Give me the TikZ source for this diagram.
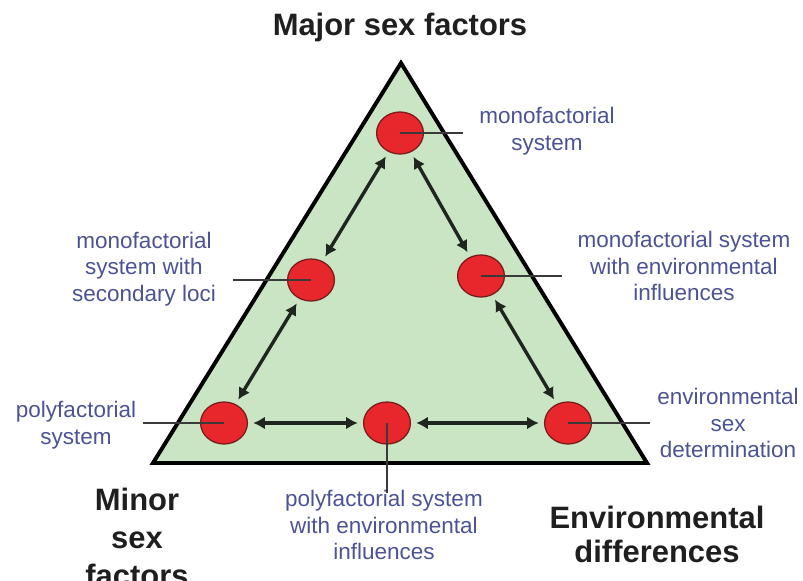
\documentclass[tikz,border=0pt]{standalone}
\usepackage{fontspec}
\setmainfont{Liberation Sans}
\usetikzlibrary{arrows.meta,positioning,shapes.geometric}
\definecolor{TriGreen}{HTML}{C9E5C3}
\definecolor{SpotRed}{HTML}{E8272C}
\definecolor{SpotRim}{HTML}{7A1A1A}
\definecolor{LabelBlue}{HTML}{4B5394}
\definecolor{ArrowDark}{HTML}{1F261F}
\definecolor{LeaderGrey}{HTML}{3A3A3A}

\begin{document}
\begin{tikzpicture}[
    x=0.025cm,y=-0.025cm,
    sexcircle/.style={
      ellipse,
      fill=SpotRed,
      draw=SpotRim,
      line width=0.9pt,
      minimum width=1.17cm,
      minimum height=1.05cm,
      inner sep=0pt
    },
    twoway/.style={
      {Latex[length=2.9mm,width=3.2mm]}-{Latex[length=2.9mm,width=3.2mm]},
      ArrowDark,
      line width=2.4pt,
      shorten <=0.13cm,
      shorten >=0.13cm
    },
    leader/.style={LeaderGrey,line width=0.8pt},
    sexlabel/.style={
      align=center,
      inner sep=0pt,
      text=LabelBlue,
      font=\fontsize{16}{19}\selectfont
    },
    corner/.style={
      align=center,
      inner sep=0pt,
      text=black!88,
      font=\bfseries\fontsize{22}{27}\selectfont
    }
  ]

    \useasboundingbox (0,0) rectangle (803,580);

    % the triangle
    \draw[fill=TriGreen,line width=2.8pt,line join=miter]
      (401,63) -- (647,463) -- (153,463) -- cycle;

    % corner titles
    \node[corner,anchor=base] (major) at (400,35) {Major sex factors};
    \node[corner,anchor=north] (minor) at (137,488) {Minor\\sex\\factors};
    \node[
      corner,
      anchor=north,
      font=\bfseries\fontsize{22}{24}\selectfont
    ] (envdiff) at (657,506) {Environmental\\differences};

    % systems
    \node[sexcircle] (mono)    at (400,133) {};
    \node[sexcircle] (secloci) at (311,280) {};
    \node[sexcircle] (envinfl) at (481,276) {};
    \node[sexcircle] (poly)    at (224,423) {};
    \node[sexcircle] (polyenv) at (387,423) {};
    \node[sexcircle] (esd)     at (568,423) {};

    \foreach \a/\b in {
      mono/secloci,
      mono/envinfl,
      secloci/poly,
      envinfl/esd,
      poly/polyenv,
      polyenv/esd}{
      \draw[twoway] (\a) -- (\b);
    }

    % labels and their leader lines
    \node[sexlabel] (lab-mono)    at (547,131) {monofactorial\\system};
    \node[sexlabel] (lab-secloci) at (144,269) {monofactorial\\system with\\secondary loci};
    \node[sexlabel] (lab-envinfl) at (684,266) {monofactorial system\\with environmental\\influences};
    \node[sexlabel] (lab-poly)    at (76,425)  {polyfactorial\\system};
    \node[sexlabel] (lab-polyenv) at (384,525) {polyfactorial system\\with environmental\\influences};
    \node[sexlabel] (lab-esd)     at (728,423) {environmental\\sex\\determination};

    \coordinate (end-mono)    at (463,133);
    \coordinate (end-secloci) at (233,280);
    \coordinate (end-envinfl) at (562,276);
    \coordinate (end-poly)    at (143,423);
    \coordinate (end-polyenv) at (387,493);
    \coordinate (end-esd)     at (650,423);

    \foreach \s in {mono,secloci,envinfl,poly,polyenv,esd}{
      \draw[leader] (\s.center) -- (end-\s);
    }

  \end{tikzpicture}
\end{document}
